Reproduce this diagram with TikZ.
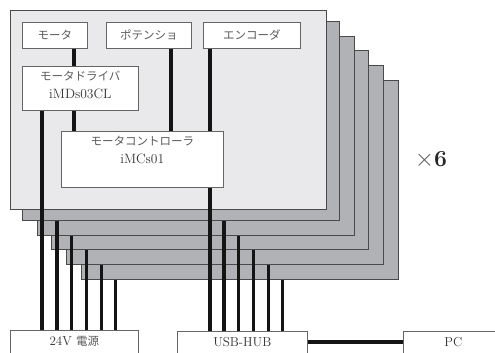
\documentclass[tikz,border=0pt]{standalone}
\usepackage{fontspec}
\newfontfamily\jp{Noto Sans CJK JP}
\usetikzlibrary{calc}
\definecolor{frontgray}{HTML}{E9E9EB}
\definecolor{backgray}{HTML}{B1B2B5}
\definecolor{edge}{HTML}{4A4A4A}
\definecolor{txt}{HTML}{5A5A5A}
\definecolor{ltxt}{HTML}{333333}
\newcommand{\jpt}{\jp\fontsize{11.5}{13}\selectfont\color{txt}}
\begin{document}
\begin{tikzpicture}[x=1pt,y=-1pt,
  panel/.style={draw=edge, line width=0.8pt, fill=backgray, anchor=north west, inner sep=0pt,
                minimum width=317pt, minimum height=199pt},
  frontpanel/.style={panel, fill=frontgray, minimum width=316pt},
  box/.style={draw=edge!85, line width=0.6pt, fill=white, anchor=north west, inner sep=0pt},
  jtext/.style={font=\jpt},
  ltext/.style={font=\fontsize{13}{14}\selectfont, text=ltxt},
  twoline/.style={align=center, text=ltxt, font=\fontsize{13.5}{18}\selectfont},
  wire/.style={line width=3.2pt, black!92}]
\useasboundingbox (0,0) rectangle (495,353);
\clip (0,0) rectangle (495,353);
% stacked back panels
\foreach \k in {5,4,3,2,1}{
  \node[panel] (p\k) at ({22+14.7*(\k-1)},{21+14.7*(\k-1)}) {};
}
% front panel
\node[frontpanel] (p0) at (10,10) {};
% inner boxes
\node[box, minimum width=65pt, minimum height=26pt, jtext] (motor) at (22,22) {モータ};
\node[box, minimum width=85pt, minimum height=26pt, jtext] (pot) at (106,22) {ポテンショ};
\node[box, minimum width=97pt, minimum height=26pt, jtext] (enc) at (203,22) {エンコーダ};
\node[box, minimum width=116pt, minimum height=44pt] (driver) at (22,66) {};
\node[twoline, anchor=north] (drivertxt) at ($(driver.north)+(0,2)$)
  {{\jpt モータドライバ}\\iMDs03CL};
\node[box, minimum width=162pt, minimum height=56pt] (ctrl) at (61,131) {};
\node[twoline, anchor=north] (ctrltxt) at ($(ctrl.north)+(0,2)$)
  {{\jpt モータコントローラ}\\iMCs01};
% bottom boxes
\node[box, minimum width=128pt, minimum height=40pt] (pwr) at (10,330) {};
\node[ltext, anchor=center] (pwrtxt) at ($(pwr.north)+(0,11)$) {24V {\jpt 電源}};
\node[box, minimum width=130pt, minimum height=40pt] (hub) at (177,331) {};
\node[ltext, anchor=center] (hubtxt) at ($(hub.north)+(0,11)$) {USB-HUB};
\node[box, minimum width=100pt, minimum height=40pt] (pc) at (403,331) {};
\node[ltext, anchor=center] (pctxt) at ($(pc.north)+(0,11)$) {PC};
% wires inside front panel
\draw[wire] ([xshift=52pt]motor.south west) -- ([xshift=52pt]driver.north west);
\draw[wire] ([xshift=52pt]driver.south west) -- ([xshift=13pt]ctrl.north west);
\draw[wire] ([xshift=65pt]pot.south west) -- ([xshift=110pt]ctrl.north west);
\draw[wire] ([xshift=7pt]enc.south west) -- ([xshift=149pt]ctrl.north west);
% wires to power and hub
\draw[wire] ([xshift=20pt]driver.south west) -- ([xshift=32pt]pwr.north west);
\draw[wire] ([xshift=149pt]ctrl.south west) -- ([xshift=33pt]hub.north west);
\foreach \k in {1,...,5}{
  \draw[wire] ([xshift=35pt]p\k.south west) -- ([xshift={47pt+14.7pt*(\k-1)}]pwr.north west);
  \draw[wire] ([xshift=202pt]p\k.south west) -- ([xshift={47pt+14.7pt*(\k-1)}]hub.north west);
}
\draw[wire, line width=4pt] ([yshift=9pt]hub.east) -- ([yshift=9pt]pc.west);
% multiplier
\node[font=\fontsize{23}{26}\selectfont] (mult) at (431,160) {{\color{txt}$\times$}{\color{black!85}\bfseries 6}};
\end{tikzpicture}
\end{document}
